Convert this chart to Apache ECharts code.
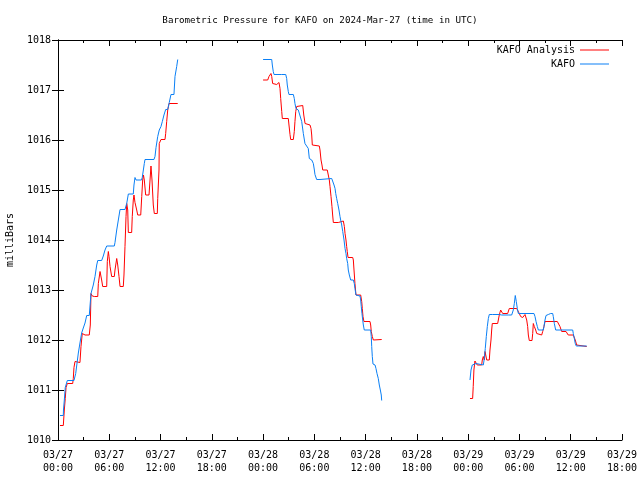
<!DOCTYPE html>
<html>
<head>
<meta charset="utf-8">
<script src="https://cdn.jsdelivr.net/npm/echarts@6/dist/echarts.min.js"></script>
<style>
html,body{margin:0;padding:0;background:#fff;}
#chart{width:640px;height:480px;}
</style>
</head>
<body>
<div id="chart"></div>
<script>
// x values: hours since 2024-03-27 00:00 UTC; null pressure = gap in the record
const analysisHours = [
0.23,0.62,0.74,0.85,0.94,1.09,1.72,1.79,1.87,1.99,2.19,2.57,2.69,2.84,2.96,3.16,3.66,3.78,3.86,4.01,4.25,4.65,4.72,4.92,5.11,5.23,5.70,5.77,5.89,5.97,6.09,6.28,6.59,6.67,6.87,6.99,7.14,7.26,7.64,7.72,7.84,7.96,8.04,8.16,8.23,8.62,8.69,8.81,8.89,9.01,9.21,9.33,9.68,9.80,9.91,10.00,10.10,10.26,10.65,10.77,10.88,11.00,11.15,11.27,11.62,11.67,11.82,11.85,12.05,12.52,12.60,12.72,12.84,12.99,14.01,
19.0,
24.0,24.54,24.69,24.92,25.01,25.12,25.59,25.71,25.86,25.98,26.06,26.18,26.25,26.95,27.03,27.15,27.23,27.54,27.65,27.73,27.82,27.93,28.05,28.64,28.76,28.91,28.99,29.49,29.61,29.69,29.76,29.88,30.58,30.66,30.78,30.89,30.98,31.51,31.63,31.75,31.83,31.95,32.06,32.14,32.22,32.80,32.92,33.39,33.51,33.59,33.70,33.78,33.85,33.94,34.49,34.56,34.64,34.75,34.87,35.42,35.54,35.61,35.69,35.80,36.51,36.59,36.66,36.78,36.90,37.88,
43.0,
48.21,48.52,48.59,48.67,48.79,48.91,49.06,49.58,49.65,49.77,49.89,49.97,50.09,50.17,50.47,50.55,50.67,50.75,50.82,51.45,51.57,51.64,51.80,51.92,52.04,52.62,52.69,52.81,53.68,53.79,53.98,54.14,54.26,54.38,54.53,54.65,54.77,54.85,54.96,55.04,55.15,55.47,55.55,55.62,55.74,55.90,56.02,56.14,56.60,56.72,56.87,56.99,58.43,58.54,58.66,58.74,58.94,59.45,59.53,59.71,60.30,60.53,60.70,60.82,61.87
];
const analysisMb = [
1010.29,1010.29,1010.6,1010.83,1011.05,1011.13,1011.13,1011.23,1011.45,1011.57,1011.55,1011.55,1011.87,1012.13,1012.13,1012.1,1012.1,1012.3,1012.93,1012.88,1012.87,1012.87,1013.13,1013.37,1013.2,1013.07,1013.07,1013.57,1013.77,1013.67,1013.47,1013.27,1013.27,1013.4,1013.63,1013.5,1013.27,1013.07,1013.07,1013.3,1013.87,1014.47,1014.73,1014.6,1014.15,1014.15,1014.47,1014.8,1014.9,1014.75,1014.6,1014.5,1014.5,1014.87,1015.2,1015.3,1015.2,1014.9,1014.9,1015.2,1015.48,1015.2,1014.7,1014.53,1014.53,1014.83,1015.4,1015.93,1016.01,1016.01,1016.13,1016.37,1016.6,1016.73,1016.73,
null,
1017.2,1017.2,1017.27,1017.33,1017.27,1017.13,1017.11,1017.15,1017.15,1017.03,1016.83,1016.57,1016.43,1016.43,1016.3,1016.11,1016.01,1016.01,1016.17,1016.37,1016.57,1016.67,1016.69,1016.69,1016.5,1016.33,1016.3,1016.3,1016.23,1016.1,1015.9,1015.88,1015.88,1015.8,1015.6,1015.5,1015.4,1015.4,1015.3,1015.2,1015.07,1014.87,1014.67,1014.5,1014.35,1014.35,1014.38,1014.38,1014.27,1014.13,1014.0,1013.87,1013.77,1013.65,1013.65,1013.6,1013.4,1013.13,1012.9,1012.9,1012.77,1012.63,1012.47,1012.37,1012.37,1012.3,1012.17,1012.07,1012.0,1012.01,
null,
1010.83,1010.83,1011.07,1011.4,1011.58,1011.57,1011.5,1011.5,1011.6,1011.67,1011.6,1011.77,1011.77,1011.6,1011.6,1011.8,1012.0,1012.2,1012.33,1012.33,1012.37,1012.5,1012.6,1012.57,1012.53,1012.53,1012.57,1012.63,1012.63,1012.6,1012.53,1012.47,1012.43,1012.45,1012.48,1012.51,1012.53,1012.4,1012.27,1012.1,1011.99,1011.99,1012.13,1012.33,1012.27,1012.2,1012.13,1012.1,1012.1,1012.17,1012.27,1012.37,1012.37,1012.4,1012.33,1012.27,1012.17,1012.17,1012.13,1012.1,1012.1,1012.0,1011.9,1011.87,1011.87
];
const stationHours = [
0.23,0.62,0.64,0.74,0.85,1.09,1.87,2.07,2.38,2.57,2.77,2.96,3.16,3.36,3.66,3.86,4.13,4.33,4.53,4.65,5.11,5.30,5.50,5.70,6.59,6.67,6.87,7.06,7.26,7.84,8.04,8.23,8.81,8.89,9.01,9.13,9.77,9.86,10.10,10.18,11.23,11.35,11.47,11.67,11.85,12.05,12.21,12.40,12.60,12.84,13.02,13.22,13.57,13.69,13.89,14.01,
19.0,
24.0,25.01,25.08,25.19,25.28,25.63,25.78,26.18,26.65,26.76,26.83,26.95,27.03,27.54,27.65,27.73,27.85,28.12,28.52,28.71,28.90,29.10,29.29,29.41,29.69,29.88,30.00,30.07,30.27,30.66,30.86,32.03,32.14,32.30,32.42,32.50,32.61,32.73,32.88,33.00,33.08,33.20,33.32,33.47,33.59,33.70,33.78,33.90,33.97,34.09,34.25,34.56,34.67,34.75,34.87,35.34,35.42,35.49,35.57,35.66,35.73,35.84,36.59,36.66,36.71,36.78,36.86,37.10,37.21,37.33,37.48,37.60,37.72,37.83,37.88,
43.0,
48.21,48.33,48.48,48.92,49.77,49.89,50.00,50.12,50.24,50.36,50.47,50.67,50.87,51.64,51.72,51.92,52.69,52.81,53.09,53.28,53.40,53.51,53.63,53.75,53.87,55.70,55.82,55.94,56.09,56.21,56.79,56.87,56.99,57.11,57.38,57.65,57.89,57.96,58.08,58.24,60.23,60.30,60.42,60.53,60.65,60.77,60.93,61.87
];
const stationMb = [
1010.49,1010.49,1010.6,1010.8,1011.05,1011.19,1011.19,1011.33,1011.74,1011.94,1012.14,1012.24,1012.34,1012.49,1012.49,1012.93,1013.1,1013.27,1013.5,1013.59,1013.59,1013.68,1013.8,1013.88,1013.88,1013.95,1014.2,1014.4,1014.61,1014.61,1014.73,1014.92,1014.92,1015.1,1015.25,1015.2,1015.2,1015.25,1015.53,1015.61,1015.61,1015.67,1015.85,1016.07,1016.2,1016.27,1016.37,1016.5,1016.61,1016.61,1016.75,1016.91,1016.91,1017.27,1017.47,1017.61,
null,
1017.61,1017.61,1017.5,1017.37,1017.31,1017.31,1017.29,1017.31,1017.31,1017.23,1017.1,1016.97,1016.91,1016.91,1016.83,1016.73,1016.63,1016.6,1016.37,1016.13,1015.93,1015.91,1015.83,1015.63,1015.6,1015.53,1015.4,1015.31,1015.21,1015.21,1015.25,1015.23,1015.19,1015.1,1015.03,1014.93,1014.83,1014.73,1014.6,1014.47,1014.4,1014.3,1014.17,1014.0,1013.83,1013.73,1013.63,1013.53,1013.4,1013.3,1013.2,1013.2,1013.13,1013.03,1012.9,1012.88,1012.8,1012.67,1012.53,1012.4,1012.3,1012.2,1012.2,1012.07,1011.87,1011.67,1011.52,1011.5,1011.43,1011.33,1011.23,1011.1,1011.0,1010.9,1010.79,
null,
1011.2,1011.4,1011.5,1011.53,1011.5,1011.63,1011.83,1012.07,1012.27,1012.43,1012.51,1012.53,1012.51,1012.51,1012.53,1012.5,1012.5,1012.53,1012.5,1012.6,1012.73,1012.89,1012.77,1012.63,1012.53,1012.53,1012.47,1012.37,1012.27,1012.2,1012.2,1012.27,1012.4,1012.49,1012.51,1012.53,1012.53,1012.47,1012.33,1012.2,1012.2,1012.13,1012.03,1011.93,1011.88,1011.85,1011.88,1011.88
];
const xTickLabels = ['03/27\n00:00','03/27\n06:00','03/27\n12:00','03/27\n18:00','03/28\n00:00','03/28\n06:00','03/28\n12:00','03/28\n18:00','03/29\n00:00','03/29\n06:00','03/29\n12:00','03/29\n18:00'];
const seriesNames = ['KAFO Analysis','KAFO'];
const titleText = 'Barometric Pressure for KAFO on 2024-Mar-27 (time in UTC)';
const yName = 'milliBars';

const FONT = 'DejaVu Sans Mono';
const pair = (xs, ys) => xs.map((x, i) => [x, ys[i] === null ? '-' : ys[i]]);

const tickCommon = {
  axisLine: {show: true, lineStyle: {color: '#000', width: 1}},
  splitLine: {show: false}
};
const chart = echarts.init(document.getElementById('chart'), null, {renderer: 'canvas'});
chart.setOption({
  animation: false,
  backgroundColor: '#fff',
  title: {text: titleText, left: 'center', top: 11,
    textStyle: {fontFamily: FONT, fontSize: 9.2, fontWeight: 'normal', color: '#000'}},
  legend: [
    {data: [{name: seriesNames[0]}], right: 26, top: 40, align: 'right', itemWidth: 29, itemHeight: 1, itemGap: 0,
     icon: 'rect', textStyle: {fontFamily: FONT, fontSize: 10, color: '#000', padding: [0, 0, 0, 0]}},
    {data: [{name: seriesNames[1]}], right: 26, top: 54, align: 'right', itemWidth: 29, itemHeight: 1, itemGap: 0,
     icon: 'rect', textStyle: {fontFamily: FONT, fontSize: 10, color: '#000', padding: [0, 0, 0, 0]}}
  ],
  grid: {left: 58, right: 18, top: 40, bottom: 40, containLabel: false, outerBoundsMode: 'none'},
  xAxis: [
    Object.assign({type: 'value', min: 0, max: 66, interval: 6, position: 'bottom',
      axisTick: {show: true, inside: true, length: 6, lineStyle: {color: '#000'}},
      minorTick: {show: true, splitNumber: 2, length: 3, lineStyle: {color: '#000'}},
      axisLabel: {margin: 9, fontFamily: FONT, fontSize: 10, color: '#000', lineHeight: 13,
        formatter: v => xTickLabels[Math.round(v / 6)]}}, tickCommon),
    Object.assign({type: 'value', min: 0, max: 66, interval: 6, position: 'top',
      axisTick: {show: true, inside: true, length: 6, lineStyle: {color: '#000'}},
      minorTick: {show: true, splitNumber: 2, length: 3, lineStyle: {color: '#000'}},
      axisLabel: {show: false}}, tickCommon)
  ],
  yAxis: [
    Object.assign({type: 'value', min: 1010, max: 1018, interval: 1, position: 'left',
      name: yName, nameLocation: 'middle', nameRotate: 90, nameGap: 43,
      nameTextStyle: {fontFamily: FONT, fontSize: 10, color: '#000'},
      axisTick: {show: true, inside: true, length: 6, lineStyle: {color: '#000'}},
      axisLabel: {margin: 7, fontFamily: FONT, fontSize: 10, color: '#000', formatter: v => String(v)}}, tickCommon),
    Object.assign({type: 'value', min: 1010, max: 1018, interval: 1, position: 'right',
      axisTick: {show: true, inside: true, length: 6, lineStyle: {color: '#000'}},
      axisLabel: {show: false}}, tickCommon)
  ],
  series: [
    {name: seriesNames[0], type: 'line', xAxisIndex: 0, yAxisIndex: 0, showSymbol: false, symbol: 'none',
     connectNulls: false, color: '#ff0000', lineStyle: {width: 1, color: '#ff0000'},
     data: pair(analysisHours, analysisMb)},
    {name: seriesNames[1], type: 'line', xAxisIndex: 0, yAxisIndex: 0, showSymbol: false, symbol: 'none',
     connectNulls: false, color: '#0a7ff5', lineStyle: {width: 1, color: '#0a7ff5'},
     data: pair(stationHours, stationMb)}
  ]
});
</script>
</body>
</html>
